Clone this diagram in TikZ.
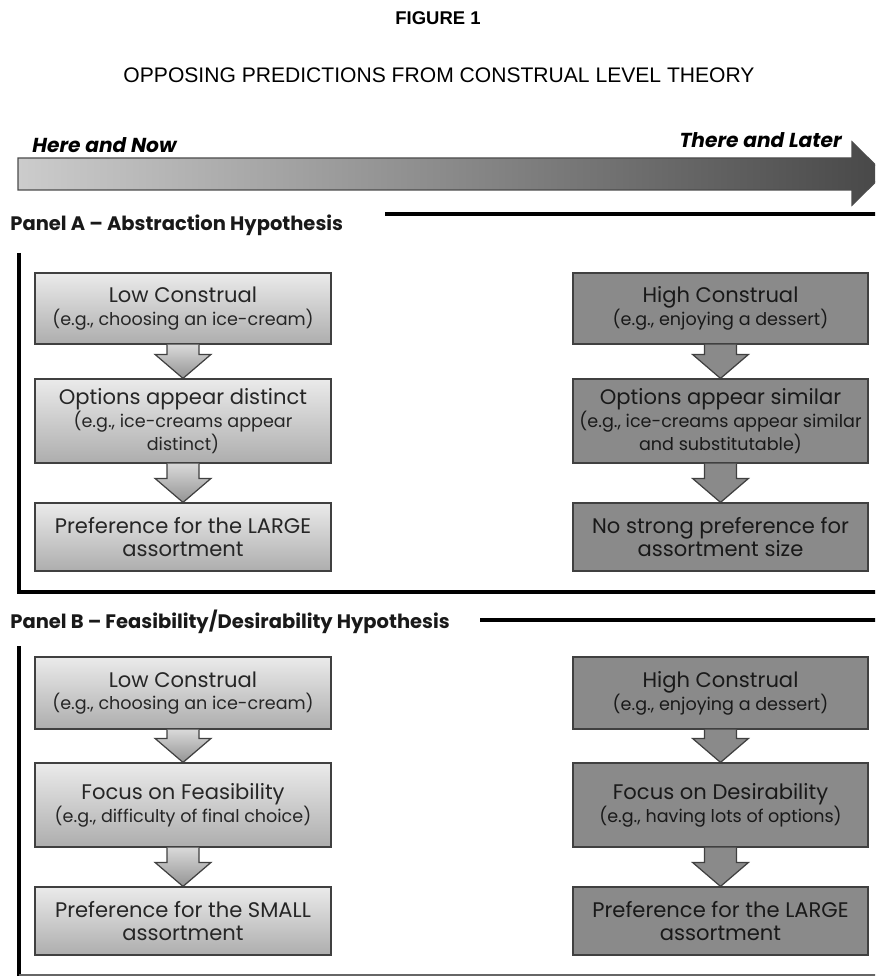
\documentclass[tikz,border=0pt]{standalone}
\usepackage{fontspec}
\setmainfont{Poppins}
\newfontfamily\titlefont{Liberation Sans}
\usetikzlibrary{calc}
\newcommand{\smalltxt}[1]{{\fontsize{10}{12}\selectfont #1}}
\newcommand{\flowarrow}[3]{%
  \draw[#3] ($(#1.south)+(-16,0)$) -- ($(#2.north)+(-16,24)$) -- ($(#2.north)+(-28,24)$)
    -- (#2.north) -- ($(#2.north)+(28,24)$) -- ($(#2.north)+(16,24)$) -- ($(#1.south)+(16,0)$);}
\begin{document}
\begin{tikzpicture}[x=0.02cm,y=0.02cm]
        \tikzstyle{every node}+=[inner sep=0pt]
        \tikzstyle{lowbox}=[draw=black!75, line width=0.7pt, top color=black!8, bottom color=black!32, minimum width=5.92cm, align=center, text=black!85, font=\fontsize{12}{13}\selectfont]
        \tikzstyle{highbox}=[draw=black!75, line width=0.7pt, fill=black!46, minimum width=5.9cm, align=center, text=black!90, font=\fontsize{12}{13}\selectfont]
        \tikzstyle{lowarrow}=[draw=black!75, line width=0.7pt, top color=black!15, bottom color=black!42]
        \tikzstyle{higharrow}=[draw=black!75, line width=0.7pt, fill=black!46]
        \tikzstyle{panelline}=[black, line width=2.3pt]
        \tikzstyle{paneltitle}=[anchor=west, font=\bfseries\fontsize{11.1}{13}\selectfont, text=black!90]
        \tikzstyle{timelabel}=[font=\bfseries\itshape\fontsize{11.5}{13}\selectfont]
        \useasboundingbox (0,0) rectangle (875,-976);
        \clip (0,0) rectangle (875,-976);
        \node[font=\titlefont\bfseries\fontsize{10.5}{13}\selectfont] (fig) at (438,-18) {FIGURE 1};
        \node[font=\titlefont\fontsize{12}{14}\selectfont] (title) at (439,-75) {OPPOSING PREDICTIONS FROM CONSTRUAL LEVEL THEORY};
        \shade[left color=black!20, right color=black!72, draw=black!70, line width=0.8pt] (18,-158) -- (852,-158) -- (852,-142) -- (884,-173.5) -- (852,-205) -- (852,-190) -- (18,-190) -- cycle;
        \node[timelabel, anchor=base west] (here) at (32,-153) {Here and Now};
        \node[timelabel, anchor=base east] (there) at (842,-148) {There and Later};
        \node[paneltitle] (panelA) at (10,-225) {Panel A – Abstraction Hypothesis};
        \draw[panelline] (385,-214) -- (880,-214);
        \draw[panelline] (19,-253) -- (19,-592) -- (880,-592);
        \node[lowbox, minimum height=1.42cm] (lowA1) at (183,-308.5) {Low Construal\\\smalltxt{(e.g., choosing an ice-cream)}};
        \node[lowbox, minimum height=1.68cm] (lowA2) at (183,-421) {Options appear distinct\\\smalltxt{(e.g., ice-creams appear}\\\smalltxt{distinct)}};
        \node[lowbox, minimum height=1.36cm] (lowA3) at (183,-537) {Preference for the LARGE\\assortment};
        \node[highbox, minimum height=1.42cm] (highA1) at (720.5,-308.5) {High Construal\\\smalltxt{(e.g., enjoying a dessert)}};
        \node[highbox, minimum height=1.68cm] (highA2) at (720.5,-421) {Options appear similar\\\smalltxt{(e.g., ice-creams appear similar}\\\smalltxt{and substitutable)}};
        \node[highbox, minimum height=1.36cm] (highA3) at (720.5,-537) {No strong preference for\\assortment size};
        \flowarrow{lowA1}{lowA2}{lowarrow}
        \flowarrow{lowA2}{lowA3}{lowarrow}
        \flowarrow{highA1}{highA2}{higharrow}
        \flowarrow{highA2}{highA3}{higharrow}
        \node[paneltitle] (panelB) at (10,-622) {Panel B – Feasibility/Desirability Hypothesis};
        \draw[panelline] (480,-620) -- (880,-620);
        \draw[panelline] (19,-646) -- (19,-980);
        \draw[black!60, line width=0.6pt] (19,-975) -- (880,-975);
        \node[lowbox, minimum height=1.44cm] (lowB1) at (183,-693) {Low Construal\\\smalltxt{(e.g., choosing an ice-cream)}};
        \node[lowbox, minimum height=1.68cm] (lowB2) at (183,-805) {Focus on Feasibility\\\smalltxt{(e.g., difficulty of final choice)}};
        \node[lowbox, minimum height=1.36cm] (lowB3) at (183,-921) {Preference for the SMALL\\assortment};
        \node[highbox, minimum height=1.44cm] (highB1) at (720.5,-693) {High Construal\\\smalltxt{(e.g., enjoying a dessert)}};
        \node[highbox, minimum height=1.68cm] (highB2) at (720.5,-805) {Focus on Desirability\\\smalltxt{(e.g., having lots of options)}};
        \node[highbox, minimum height=1.36cm] (highB3) at (720.5,-921) {Preference for the LARGE\\assortment};
        \flowarrow{lowB1}{lowB2}{lowarrow}
        \flowarrow{lowB2}{lowB3}{lowarrow}
        \flowarrow{highB1}{highB2}{higharrow}
        \flowarrow{highB2}{highB3}{higharrow}
\end{tikzpicture}
\end{document}
